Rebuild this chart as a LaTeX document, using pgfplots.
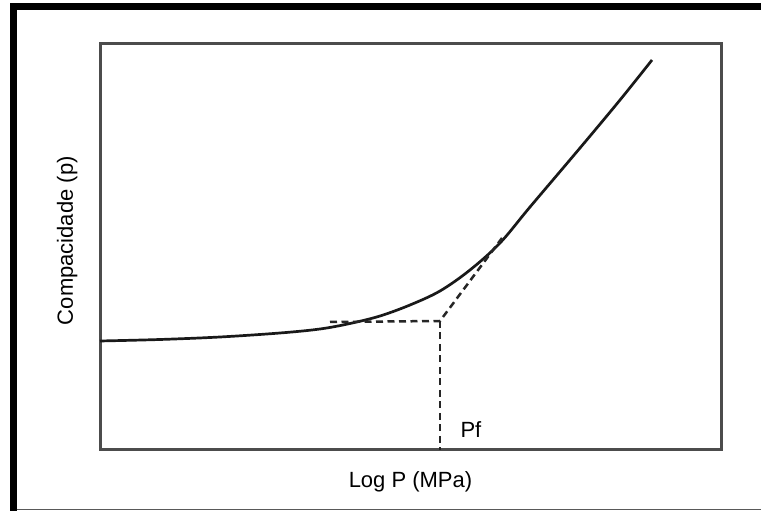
\documentclass[border=0pt]{standalone}
\usepackage{pgfplots}
\pgfplotsset{compat=1.18}
\usepackage{fontspec}
\setmainfont{Liberation Sans}
\begin{document}
\begin{tikzpicture}[x=1pt,y=1pt]
\path[use as bounding box] (0,0) rectangle (761,511);
% outer frame
\fill[black] (10,501) rectangle (761,508);
\fill[black] (10,0) rectangle (16.7,508);
\draw[black!65,line width=1.3pt] (16.7,1.5) -- (761,1.5);
\begin{axis}[
  at={(100pt,61pt)}, anchor=south west,
  scale only axis, width=621pt, height=406.5pt,
  xmin=0, xmax=621, ymin=0, ymax=406.5,
  xtick=\empty, ytick=\empty,
  axis line style={black!70,line width=3pt},
  clip=false,
  label style={font=\fontsize{22}{26}\selectfont},
  xlabel={Log P (MPa)},
  ylabel={Compacidade (p)},
  xlabel style={at={(axis description cs:0.5,0)},anchor=base,yshift=-38pt},
  ylabel style={at={(axis description cs:-0.0435,0.515)},anchor=base},
]
\addplot[black!90,line width=2.7pt,smooth,tension=0.55] coordinates {
 (0,109) (60,110.5) (120,113) (180,117) (220,121) (250,126.5) (280,134)
 (310,145) (340,159) (370,180) (400,207) (430,243) (480,302) (520,350) (552,390)
};
\addplot[black!85,line width=2.5pt,dash pattern=on 7pt off 4.5pt] coordinates {
 (230,128) (340,129) (402,212)
};
\addplot[black!85,line width=2.5pt,dash pattern=on 7pt off 4.5pt] coordinates {
 (340,129) (340,0)
};
\node[anchor=base west,font=\fontsize{22}{26}\selectfont] at (axis cs:357,12) {Pf};
\end{axis}
\end{tikzpicture}
\end{document}
